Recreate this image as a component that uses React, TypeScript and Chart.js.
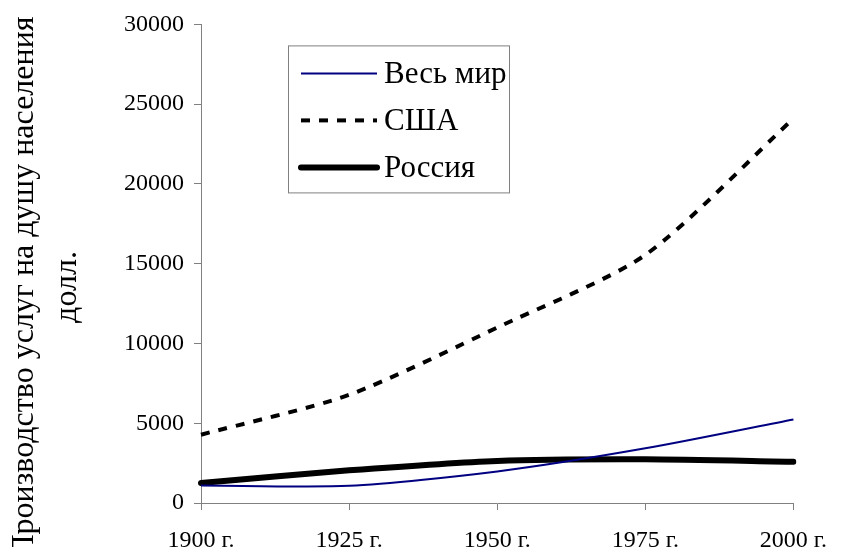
import React, { useEffect, useRef } from 'react';
import { Chart, registerables } from 'chart.js';

Chart.register(...registerables);

const categories = ['1900 г.', '1925 г.', '1950 г.', '1975 г.', '2000 г.'];
const worldValues = [1100, 1080, 1980, 3430, 5240];
const usaValues = [4280, 6780, 11000, 15550, 24100];
const russiaValues = [1260, 2050, 2640, 2740, 2590];
const seriesNames = ['Весь мир', 'США', 'Россия'];
const yTitleLines = ['Производство услуг на душу населения', 'долл.'];
const yTicks = [0, 5000, 10000, 15000, 20000, 25000, 30000];

const FONT = '"Liberation Serif", "Times New Roman", serif';

const yTitlePlugin = {
  id: 'yTitle',
  afterDraw(chart: any) {
    const { ctx } = chart;
    ctx.save();
    ctx.fillStyle = '#000';
    ctx.font = `32px ${FONT}`;
    ctx.textAlign = 'center';
    ctx.textBaseline = 'alphabetic';
    const cy = 287;
    const baselines = [33, 76];
    yTitleLines.forEach((line, i) => {
      ctx.save();
      ctx.translate(baselines[i], cy);
      ctx.rotate(-Math.PI / 2);
      ctx.fillText(line, 0, 0);
      ctx.restore();
    });
    ctx.restore();
  },
};

const legendPlugin = {
  id: 'floatLegend',
  afterDatasetsDraw(chart: any) {
    const { ctx, chartArea } = chart;
    const x0 = chartArea.left + 87;
    const y0 = chartArea.top + 21;
    const w = 221;
    const h = 147;
    ctx.save();
    ctx.fillStyle = '#fff';
    ctx.fillRect(x0, y0, w, h);
    ctx.strokeStyle = '#808080';
    ctx.lineWidth = 1;
    ctx.strokeRect(x0 + 0.5, y0 + 0.5, w, h);
    chart.data.datasets.forEach((ds: any, i: number) => {
      const cy = y0 + 28 + i * 47;
      ctx.beginPath();
      ctx.setLineDash(ds.borderDash || []);
      ctx.lineWidth = ds.borderWidth;
      ctx.strokeStyle = ds.borderColor;
      ctx.lineCap = ds.borderCapStyle || 'butt';
      ctx.moveTo(x0 + 13, cy);
      ctx.lineTo(x0 + 89, cy);
      ctx.stroke();
      ctx.setLineDash([]);
      ctx.fillStyle = '#000';
      ctx.font = `31px ${FONT}`;
      ctx.textAlign = 'left';
      ctx.textBaseline = 'middle';
      ctx.fillText(ds.label, x0 + 96, cy + 1);
    });
    ctx.restore();
  },
};

export default function App() {
  const canvasRef = useRef<HTMLCanvasElement | null>(null);

  useEffect(() => {
    const canvas = canvasRef.current;
    if (!canvas) return;
    const chart = new Chart(canvas, {
      type: 'line',
      data: {
        labels: categories,
        datasets: [
          {
            label: seriesNames[0],
            data: worldValues,
            borderColor: '#000080',
            borderWidth: 2,
            pointRadius: 0,
            tension: 0.25,
            fill: false,
          },
          {
            label: seriesNames[1],
            data: usaValues,
            borderColor: '#000000',
            borderWidth: 4,
            borderDash: [9, 9],
            pointRadius: 0,
            tension: 0.25,
            fill: false,
          },
          {
            label: seriesNames[2],
            data: russiaValues,
            borderColor: '#000000',
            borderWidth: 6,
            borderCapStyle: 'round',
            pointRadius: 0,
            tension: 0.25,
            fill: false,
          },
        ],
      },
      options: {
        animation: false,
        responsive: false,
        layout: { padding: { left: 0, right: 37, top: 24, bottom: 0 } },
        plugins: {
          legend: { display: false },
          tooltip: { enabled: false },
          title: { display: false },
        },
        scales: {
          x: {
            type: 'category',
            offset: false,
            grid: {
              display: true,
              drawOnChartArea: false,
              drawTicks: true,
              tickLength: 7,
              color: '#808080',
            },
            border: { display: true, color: '#808080' },
            ticks: {
              color: '#000',
              font: { family: FONT, size: 24 },
              maxRotation: 0,
              autoSkip: false,
              padding: 16,
            },
            afterFit: (s: any) => {
              s.height = 52;
            },
          },
          y: {
            min: 0,
            max: 30000,
            afterBuildTicks: (s: any) => {
              s.ticks = yTicks.map((v) => ({ value: v }));
            },
            grid: {
              display: true,
              drawOnChartArea: false,
              drawTicks: true,
              tickLength: 7,
              color: '#808080',
            },
            border: { display: true, color: '#808080' },
            ticks: {
              color: '#000',
              font: { family: FONT, size: 24 },
              padding: 10,
              callback: (v: any) => String(v),
            },
            afterFit: (s: any) => {
              s.width = 201;
            },
          },
        },
      },
      plugins: [legendPlugin, yTitlePlugin],
    });
    return () => {
      chart.destroy();
    };
  }, []);

  return (
    <div style={{ margin: -8, width: 843, height: 555, position: 'relative', background: '#fff' }}>
      <canvas ref={canvasRef} width={843} height={555} style={{ display: 'block' }} />
    </div>
  );
}
